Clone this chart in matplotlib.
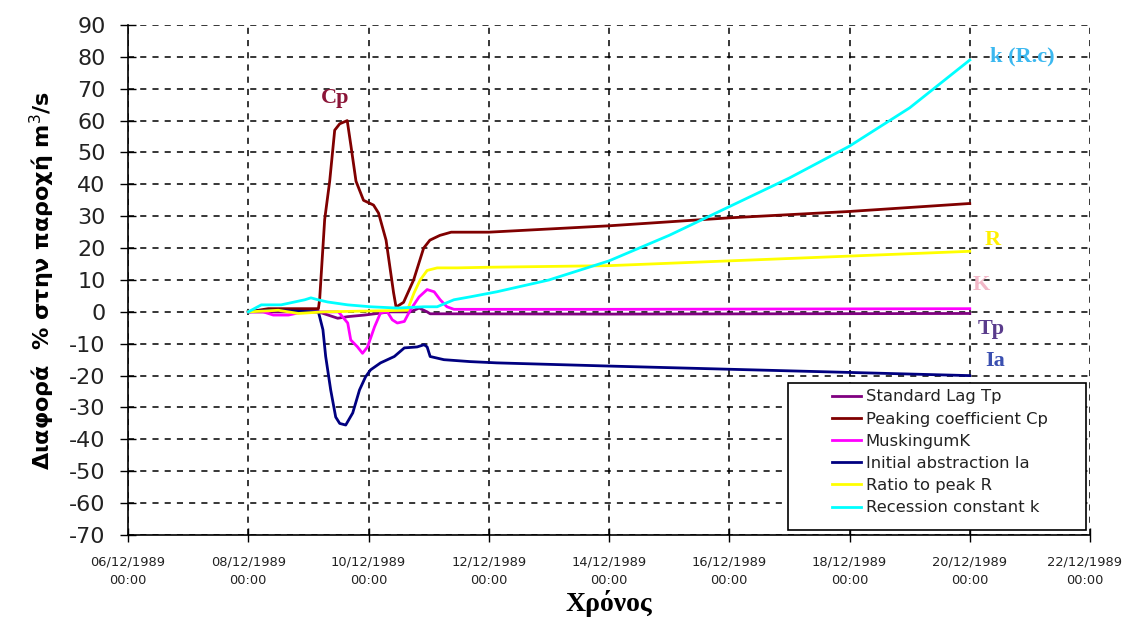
import matplotlib
matplotlib.use("Agg")
import matplotlib.pyplot as plt
import matplotlib.dates as mdates
import matplotlib.transforms as mtransforms
from matplotlib.patches import Rectangle
import pandas as pd

# Record start; each series is given as hours after this instant
start = pd.Timestamp("1989-12-08 00:00")

tp_hours = [0, 28, 35.7, 39.7, 46.4, 56.7, 64.7, 68.2, 71.4, 72.6, 144, 288]
tp_vals = [0, 0, -2, -1.5, -1, 0, 0, 1.2, 0, -0.6, -0.7, -0.5]

cp_hours = [0, 8, 28, 28.5, 30.5, 32.5, 34.5, 36.5, 39.5, 41, 43, 46, 50, 52, 55,
            58, 59, 62, 66, 70, 72.5, 76.5, 81, 96, 144, 192, 240, 288]
cp_vals = [0, 1, 1, 4, 29, 41, 57, 59, 60, 52, 41, 35, 33.5, 31, 22.5,
           6, 1.5, 3, 10, 20, 22.5, 24, 25, 25, 27, 29.5, 31.5, 34]

mk_hours = [0, 6, 10, 16, 22, 36, 39.7, 40.9, 43.6, 45.6, 47.6, 50.4, 52.8, 55.5,
            57.5, 59.5, 62.3, 64.7, 68.2, 71.4, 74.2, 76.6, 79.3, 82.1, 144, 288]
mk_vals = [0, 0, -1, -1, 0, 0, -3.5, -8.8, -11, -13, -11, -4.7, -0.3, 0,
           -2.5, -3.5, -3, 0.6, 4.7, 7, 6.3, 3.8, 1.6, 0.8, 0.8, 1]

ia_hours = [0, 8, 28, 29.8, 30.9, 32.9, 34.9, 36.5, 38.9, 41.7, 44.4, 46.8, 48.8,
            52.8, 58.3, 62.3, 67.4, 70.2, 71.4, 72.6, 78.1, 88.5, 99.2, 144, 192, 240, 288]
ia_vals = [0, 0.5, 0, -5.6, -14, -24.5, -33, -35, -35.5, -31.7, -24.5, -20.4, -18.2,
           -16, -14, -11.3, -11, -10.3, -11, -14, -15, -15.6, -16, -17, -18, -19, -20]

r_hours = [0, 12, 20, 30, 50, 63.5, 66.2, 68.6, 71.4, 75.4, 83.3, 96, 144, 192, 240, 288]
r_vals = [0, 0.5, -0.5, 0, 0.3, 0.5, 6, 10, 13, 13.8, 13.8, 14, 14.5, 16, 17.5, 19]

k_hours = [0, 5.2, 13.1, 22.6, 25, 27.8, 31.7, 39.7, 48.8, 59.5, 70.2, 75.4, 82.1,
           88.5, 99.2, 120, 144, 168, 192, 216, 240, 264, 288]
k_vals = [0, 2.2, 2.2, 3.8, 4.4, 3.8, 3.1, 2.2, 1.6, 1.2, 1.6, 1.6, 3.8,
          4.7, 6.3, 10, 16, 24, 33, 42, 52, 64, 79]

series_names = ["Standard Lag Tp", "Peaking coefficient Cp", "MuskingumK",
                "Initial abstraction Ia", "Ratio to peak R", "Recession constant k"]
series_colors = ["#800080", "#800000", "#FF00FF", "#000080", "#FFFF00", "#00FFFF"]
series_data = [(tp_hours, tp_vals), (cp_hours, cp_vals), (mk_hours, mk_vals),
               (ia_hours, ia_vals), (r_hours, r_vals), (k_hours, k_vals)]

x_tick_dates = pd.date_range("1989-12-06", "1989-12-22", freq="2D")
y_ticks = list(range(-70, 91, 10))


def to_time(hours):
    return [start + pd.Timedelta(hours=h) for h in hours]


fig = plt.figure(figsize=(11.3, 6.17), dpi=100)
ax = fig.add_axes([0.1133, 0.1329, 0.8513, 0.8266])

handles = []
for name, color, (hrs, vals) in zip(series_names, series_colors, series_data):
    ln, = ax.plot(to_time(hrs), vals, color=color, lw=2.0, label=name,
                  solid_joinstyle="round")
    handles.append(ln)

ax.set_xlim(x_tick_dates[0], x_tick_dates[-1])
ax.set_ylim(-70, 90)
ax.set_xticks(x_tick_dates)
ax.set_xticklabels([d.strftime("%d/%m/%Y\n%H:%M") for d in x_tick_dates],
                   fontsize=9.4, family="DejaVu Sans", color="#222222",
                   linespacing=1.55)
ax.set_yticks(y_ticks)
ax.set_yticklabels([str(v) for v in y_ticks], fontsize=16, family="DejaVu Sans",
                   color="#222222")
ax.tick_params(axis="y", direction="inout", length=12, width=1, pad=10)
ax.tick_params(axis="x", direction="inout", length=10, width=1, pad=10)

# keep the last date label inside the figure
last_lbl = ax.get_xticklabels()[-1]
last_lbl.set_transform(last_lbl.get_transform() +
                       mtransforms.ScaledTranslation(-5 / 100, 0, fig.dpi_scale_trans))

ax.grid(True, color="black", linestyle=(0, (4, 4)), linewidth=1.1)
ax.set_axisbelow(True)
for side in ("top", "right"):
    ax.spines[side].set_visible(False)
for side in ("left", "bottom"):
    ax.spines[side].set_linewidth(1.2)

ax.set_ylabel("Διαφορά  % στην παροχή m$^{3}$/s", fontsize=16, fontweight="bold",
              family="DejaVu Sans", labelpad=9)
ax.set_xlabel("Χρόνος", fontsize=20, fontweight="bold", family="Liberation Serif",
              labelpad=2)


def at(day, hour=0):
    return mdates.date2num(pd.Timestamp(1989, 12, day) + pd.Timedelta(hours=hour))


serif = dict(family="Liberation Serif", fontweight="bold")
ax.text(at(9, 10.5), 67, "Cp", color="#8B1538", fontsize=16, ha="center", va="center", **serif)
ax.text(at(20, 8), 80, "k (R.c)", color="#3BB8F0", fontsize=16, ha="left", va="center", **serif)
ax.text(at(20, 6), 22.5, "R", color="#FFF000", fontsize=16, ha="left", va="center", **serif)
ax.text(at(20, 1), 8.5, "K", color="#F2B8C8", fontsize=16, ha="left", va="center", **serif)
ax.text(at(20, 3.2), -5.5, "Tp", color="#5A3C8C", fontsize=16, ha="left", va="center", **serif)
ax.text(at(20, 6), -15.5, "Ia", color="#3A4FB0", fontsize=16, ha="left", va="center", **serif)

# Legend box with wide inner margins
ax.add_patch(Rectangle((0.686, 0.0098), 0.310, 0.288, transform=ax.transAxes,
                       facecolor="white", edgecolor="black", lw=1.2, zorder=5))
leg = ax.legend(handles=handles, loc="center left", bbox_to_anchor=(0.72, 0.162),
                frameon=False, handlelength=1.75, handletextpad=0.3,
                labelspacing=0.44, borderpad=0.2,
                prop={"family": "DejaVu Sans", "size": 11.8})
leg.set_zorder(6)
for txt in leg.get_texts():
    txt.set_color("#222222")

fig.savefig("out.png", dpi=100)
